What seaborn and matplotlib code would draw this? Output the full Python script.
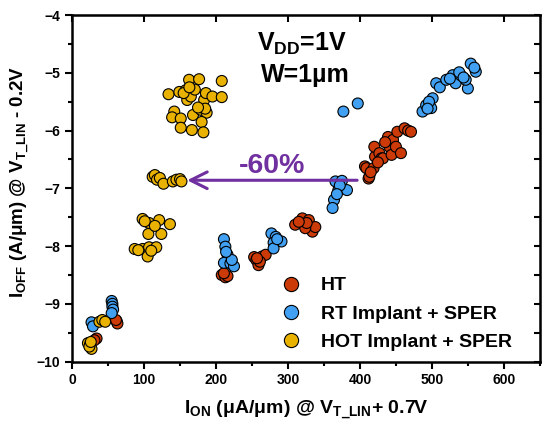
import numpy as np
import pandas as pd
import matplotlib
matplotlib.use('Agg')
import matplotlib.pyplot as plt
import seaborn as sns
from matplotlib.ticker import MultipleLocator

# values
ht_x = [34, 31, 62, 63, 61,
        208, 213, 216, 211,
        253, 256, 259, 264, 269, 261, 257,
        310, 320, 329, 334, 338, 324, 326, 315,
        407, 409, 412, 413, 419, 421, 420, 427, 430, 432, 439, 441, 444, 446,
        450, 452, 457, 462, 467, 471, 415, 435, 425]
ht_y = [-9.60, -9.63, -9.30, -9.34, -9.28,
        -8.50, -8.54, -8.52, -8.47,
        -8.19, -8.24, -8.33, -8.18, -8.15, -8.27, -8.21,
        -7.63, -7.52, -7.55, -7.75, -7.67, -7.69, -7.60, -7.58,
        -6.62, -6.65, -6.83, -6.80, -6.65, -6.45, -6.28, -6.39, -6.48, -6.48, -6.11, -6.28, -6.42, -6.16,
        -6.28, -6.02, -6.39, -5.96, -6.00, -6.02, -6.72, -6.20, -6.55]

rt_x = [27, 29, 55, 56, 56, 57, 55,
        211, 213, 216, 211, 220, 225, 222, 214,
        277, 283, 280, 291, 280, 285,
        366, 375, 370, 382, 364, 362, 372, 368,
        377, 397,
        487, 492, 501, 499, 496, 494,
        506, 511, 520, 529, 533, 540, 550, 554, 561, 547, 538, 559, 525, 544]
rt_y = [-9.32, -9.39, -8.95, -9.00, -9.05, -9.10, -9.16,
        -7.88, -8.01, -8.15, -8.29, -8.30, -8.35, -8.24, -8.10,
        -7.78, -7.84, -7.94, -7.92, -8.04, -7.88,
        -6.88, -6.87, -7.03, -7.03, -7.20, -7.34, -6.95, -7.10,
        -5.67, -5.53,
        -5.67, -5.56, -5.44, -5.61, -5.50, -5.62,
        -5.18, -5.25, -5.12, -5.04, -5.18, -5.04, -5.27, -4.84, -4.98, -5.12, -4.99, -4.91, -5.10, -5.08]

hot_x = [22, 25, 27, 24, 38, 42, 46, 26,
         87, 98, 105, 107, 117, 110, 92,
         98, 107, 121, 136, 106, 124, 101, 115,
         112, 115, 118, 122, 127, 140, 145, 150, 152,
         134, 149, 162.6, 176.5, 208, 158, 160, 165, 183.5, 186, 195, 208,
         142, 139, 151, 168, 179, 187, 180, 151, 166.5, 182.5, 170.6, 155, 163, 185, 175]
hot_y = [-9.68, -9.70, -9.78, -9.74, -9.31, -9.28, -9.31, -9.66,
         -8.05, -8.05, -8.18, -8.02, -8.02, -8.08, -8.07,
         -7.53, -7.60, -7.55, -7.62, -7.79, -7.79, -7.57, -7.65,
         -6.80, -6.77, -6.85, -6.82, -6.92, -6.88, -6.85, -6.84, -6.88,
         -5.37, -5.33, -5.12, -5.11, -5.14, -5.30, -5.47, -5.41, -5.47, -5.35, -5.41, -5.42,
         -5.67, -5.77, -5.79, -5.73, -5.64, -5.69, -5.85, -5.95, -5.99, -6.03, -5.29, -5.35, -5.25, -5.62, -5.60]

series = ['HT', 'RT Implant + SPER', 'HOT Implant + SPER']
colors = ['#CC3A08', '#41A0F2', '#E9B200']

df = pd.concat([
    pd.DataFrame({'ion': ht_x, 'ioff': ht_y, 'group': series[0]}),
    pd.DataFrame({'ion': rt_x, 'ioff': rt_y, 'group': series[1]}),
    pd.DataFrame({'ion': hot_x, 'ioff': hot_y, 'group': series[2]}),
])

sns.set_style('ticks')
plt.rcParams['font.family'] = ['Liberation Sans', 'DejaVu Sans']
plt.rcParams['font.weight'] = 'bold'
plt.rcParams['axes.labelweight'] = 'bold'
plt.rcParams['text.color'] = 'black'
plt.rcParams['axes.labelcolor'] = 'black'
plt.rcParams['axes.edgecolor'] = 'black'
plt.rcParams['xtick.color'] = 'black'
plt.rcParams['ytick.color'] = 'black'
plt.rcParams['mathtext.fontset'] = 'custom'
plt.rcParams['mathtext.rm'] = 'Liberation Sans:bold'
plt.rcParams['mathtext.it'] = 'Liberation Sans:bold'
plt.rcParams['mathtext.bf'] = 'Liberation Sans:bold'
plt.rcParams['mathtext.default'] = 'bf'

fig = plt.figure(figsize=(5.42, 4.32), dpi=100)
ax = fig.add_axes([0.133, 0.163, 0.863, 0.802])

sns.scatterplot(data=df, x='ion', y='ioff', hue='group', hue_order=series,
                palette=colors, s=62, edgecolor='black', linewidth=0.8,
                alpha=1, ax=ax, legend=True)

ax.set_xlim(0, 650)
ax.set_ylim(-10, -4)
ax.xaxis.set_major_locator(MultipleLocator(100))
ax.xaxis.set_minor_locator(MultipleLocator(50))
ax.yaxis.set_major_locator(MultipleLocator(1))
ax.yaxis.set_minor_locator(MultipleLocator(0.5))
ax.set_xticks([0, 100, 200, 300, 400, 500, 600])

for sp in ax.spines.values():
    sp.set_linewidth(1.8)
    sp.set_color('black')
ax.tick_params(which='major', length=5, width=1.5, labelsize=10, direction='out')
ax.tick_params(which='minor', length=3, width=1.5, direction='out')

# inward ticks on top and right
top = ax.secondary_xaxis('top')
top.set_xticks([0, 100, 200, 300, 400, 500, 600])
top.tick_params(direction='in', length=5, width=1.5, labeltop=False)
right = ax.secondary_yaxis('right')
right.set_yticks(np.arange(-10, -3.9, 0.5))
right.tick_params(direction='in', length=4, width=1.5, labelright=False)

for lab in ax.get_xticklabels() + ax.get_yticklabels():
    lab.set_fontweight('bold')

ax.set_xlabel(r'$I_{ON}$ ($\mu$A/$\mu$m) @ $V_{T\_LIN}$+ 0.7V', fontsize=14,
              fontweight='bold', labelpad=8)
ax.set_ylabel(r'$I_{OFF}$ (A/$\mu$m) @ $V_{T\_LIN}$ - 0.2V', fontsize=13.5,
              fontweight='bold', labelpad=2)
ax.yaxis.set_label_coords(-0.086, 0.52)

ax.text(257, -4.61, r'$V_{DD}$=1V', fontsize=18, fontweight='bold', ha='left', va='baseline')
ax.text(262, -5.15, 'W=1µm', fontsize=18, fontweight='bold', ha='left', va='baseline')

purple = '#7030A0'
ax.text(278, -6.73, '-60%', fontsize=20.5, fontweight='bold', color=purple,
        ha='center', va='baseline')
ax.annotate('', xy=(156, -6.86), xytext=(400, -6.86),
            arrowprops=dict(arrowstyle='->,head_length=1.2,head_width=0.6',
                            lw=2.2, color=purple))

handles, labels = ax.get_legend_handles_labels()
ax.legend(handles, labels, frameon=False, loc='lower left',
          bbox_to_anchor=(0.39, -0.02), prop={'size': 14, 'weight': 'bold'},
          handletextpad=0.5, labelspacing=0.55, markerscale=1.3)

fig.savefig('out.png', dpi=100)
